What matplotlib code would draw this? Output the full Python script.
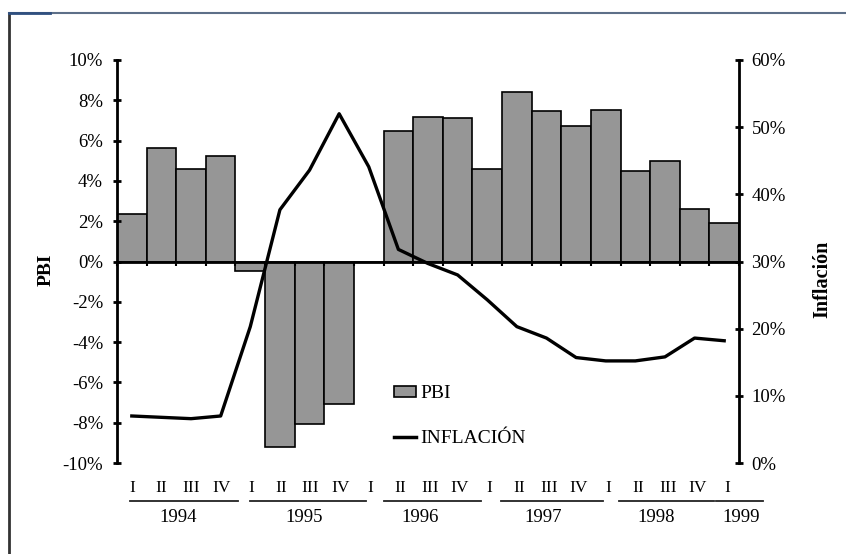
import numpy as np
import matplotlib
matplotlib.use('Agg')
import matplotlib.pyplot as plt
from matplotlib.lines import Line2D
from matplotlib.patches import Patch

plt.rcParams['font.family'] = ['Liberation Serif', 'DejaVu Serif']

years = ['1994', '1995', '1996', '1997', '1998', '1999']
quarters = ['I', 'II', 'III', 'IV'] * 5 + ['I']
pbi = [2.35, 5.65, 4.6, 5.25, -0.45, -9.2, -8.05, -7.05, 0.0, 6.5, 7.15,
       7.1, 4.6, 8.4, 7.45, 6.7, 7.5, 4.5, 5.0, 2.6, 1.9]
inflacion = [7.0, 6.8, 6.6, 7.0, 20.3, 37.7, 43.6, 52.0, 44.1, 31.8, 29.7,
             28.0, 24.3, 20.3, 18.6, 15.7, 15.2, 15.2, 15.8, 18.6, 18.2]

W, H = 846, 554
fig = plt.figure(figsize=(W / 100, H / 100), dpi=100)
ax = fig.add_axes([117 / W, 91 / H, (739 - 117) / W, (463 - 60) / H])

x = np.arange(len(pbi))
ax.bar(x, pbi, width=1.0, color='#969696', edgecolor='black', linewidth=1.2, zorder=1)
ax.set_xlim(-0.5, len(pbi) - 0.5)
ax.set_ylim(-10, 10)
ax.set_yticks(np.arange(-10, 11, 2))
ax.set_yticklabels([f'{v}%' for v in range(-10, 11, 2)])
ax.tick_params(axis='y', direction='inout', length=6, width=2, pad=7, labelsize=13.5)

for s in ['top', 'right']:
    ax.spines[s].set_visible(False)
ax.spines['left'].set_linewidth(2)
ax.spines['bottom'].set_position(('data', 0))
ax.spines['bottom'].set_linewidth(2)
ax.set_xticks(np.arange(-0.5, len(pbi), 1.0))
ax.set_xticklabels([])
ax.tick_params(axis='x', direction='out', length=3, width=1.5)

ax2 = ax.twinx()
ax2.plot(x, inflacion, color='black', lw=2.4, zorder=3)
ax2.set_ylim(0, 60)
ax2.set_yticks(np.arange(0, 61, 10))
ax2.set_yticklabels([f'{v}%' for v in range(0, 61, 10)])
ax2.tick_params(axis='y', direction='inout', length=6, width=2, pad=6, labelsize=13.5)
for s in ['top', 'left', 'bottom']:
    ax2.spines[s].set_visible(False)
ax2.spines['right'].set_linewidth(2)

# category labels below the chart (two-level axis)
tr = ax.get_xaxis_transform()
for i, q in enumerate(quarters):
    ax.text(i * 1.006, -0.062, q, transform=tr, ha='center', va='center', fontsize=12.5)

year_spans = [(-0.06, 3.59), (4.0, 7.89), (8.5, 11.78), (12.45, 15.9), (16.44, 19.66), (19.72, 21.3)]
year_shift = [-0.2, -0.13, -0.4, -0.3, -0.35, 0.05]
for yr, (a, b), d in zip(years, year_spans, year_shift):
    ax.add_line(Line2D([a, b], [-0.094, -0.094], transform=tr, color='#222222',
                       lw=1.3, clip_on=False))
    ax.text((a + b) / 2 + d, -0.134, yr, transform=tr, ha='center', va='center',
            fontsize=13.5)

fig.text(46 / W, 1 - 270 / H, 'PBI', rotation=90, ha='center', va='center',
         fontsize=14, fontweight='bold')
fig.text(822 / W, 1 - 279 / H, 'Inflación', rotation=90, ha='center', va='center',
         fontsize=14.5, fontweight='bold')

handles = [Patch(facecolor='#969696', edgecolor='black', linewidth=1.2),
           Line2D([0], [0], color='black', lw=2.5)]
fig.legend(handles, ['PBI', 'INFLACIÓN'], loc='upper left',
           bbox_to_anchor=(394 / W, 1 - 385 / H), bbox_transform=fig.transFigure,
           frameon=False, fontsize=14, handlelength=1.15, handleheight=0.5,
           handletextpad=0.2, labelspacing=1.45, borderpad=0, borderaxespad=0)

# page frame
fig.add_artist(Line2D([9 / W, 9 / W], [0, 1 - 13 / H], color='#333333', lw=2))
fig.add_artist(Line2D([9 / W, 1], [1 - 13 / H, 1 - 13 / H], color='#5d6f88', lw=1.5))
fig.add_artist(Line2D([9 / W, 50 / W], [1 - 13 / H, 1 - 13 / H], color='#2f4f7f', lw=2))

fig.savefig('out.png', dpi=100)
